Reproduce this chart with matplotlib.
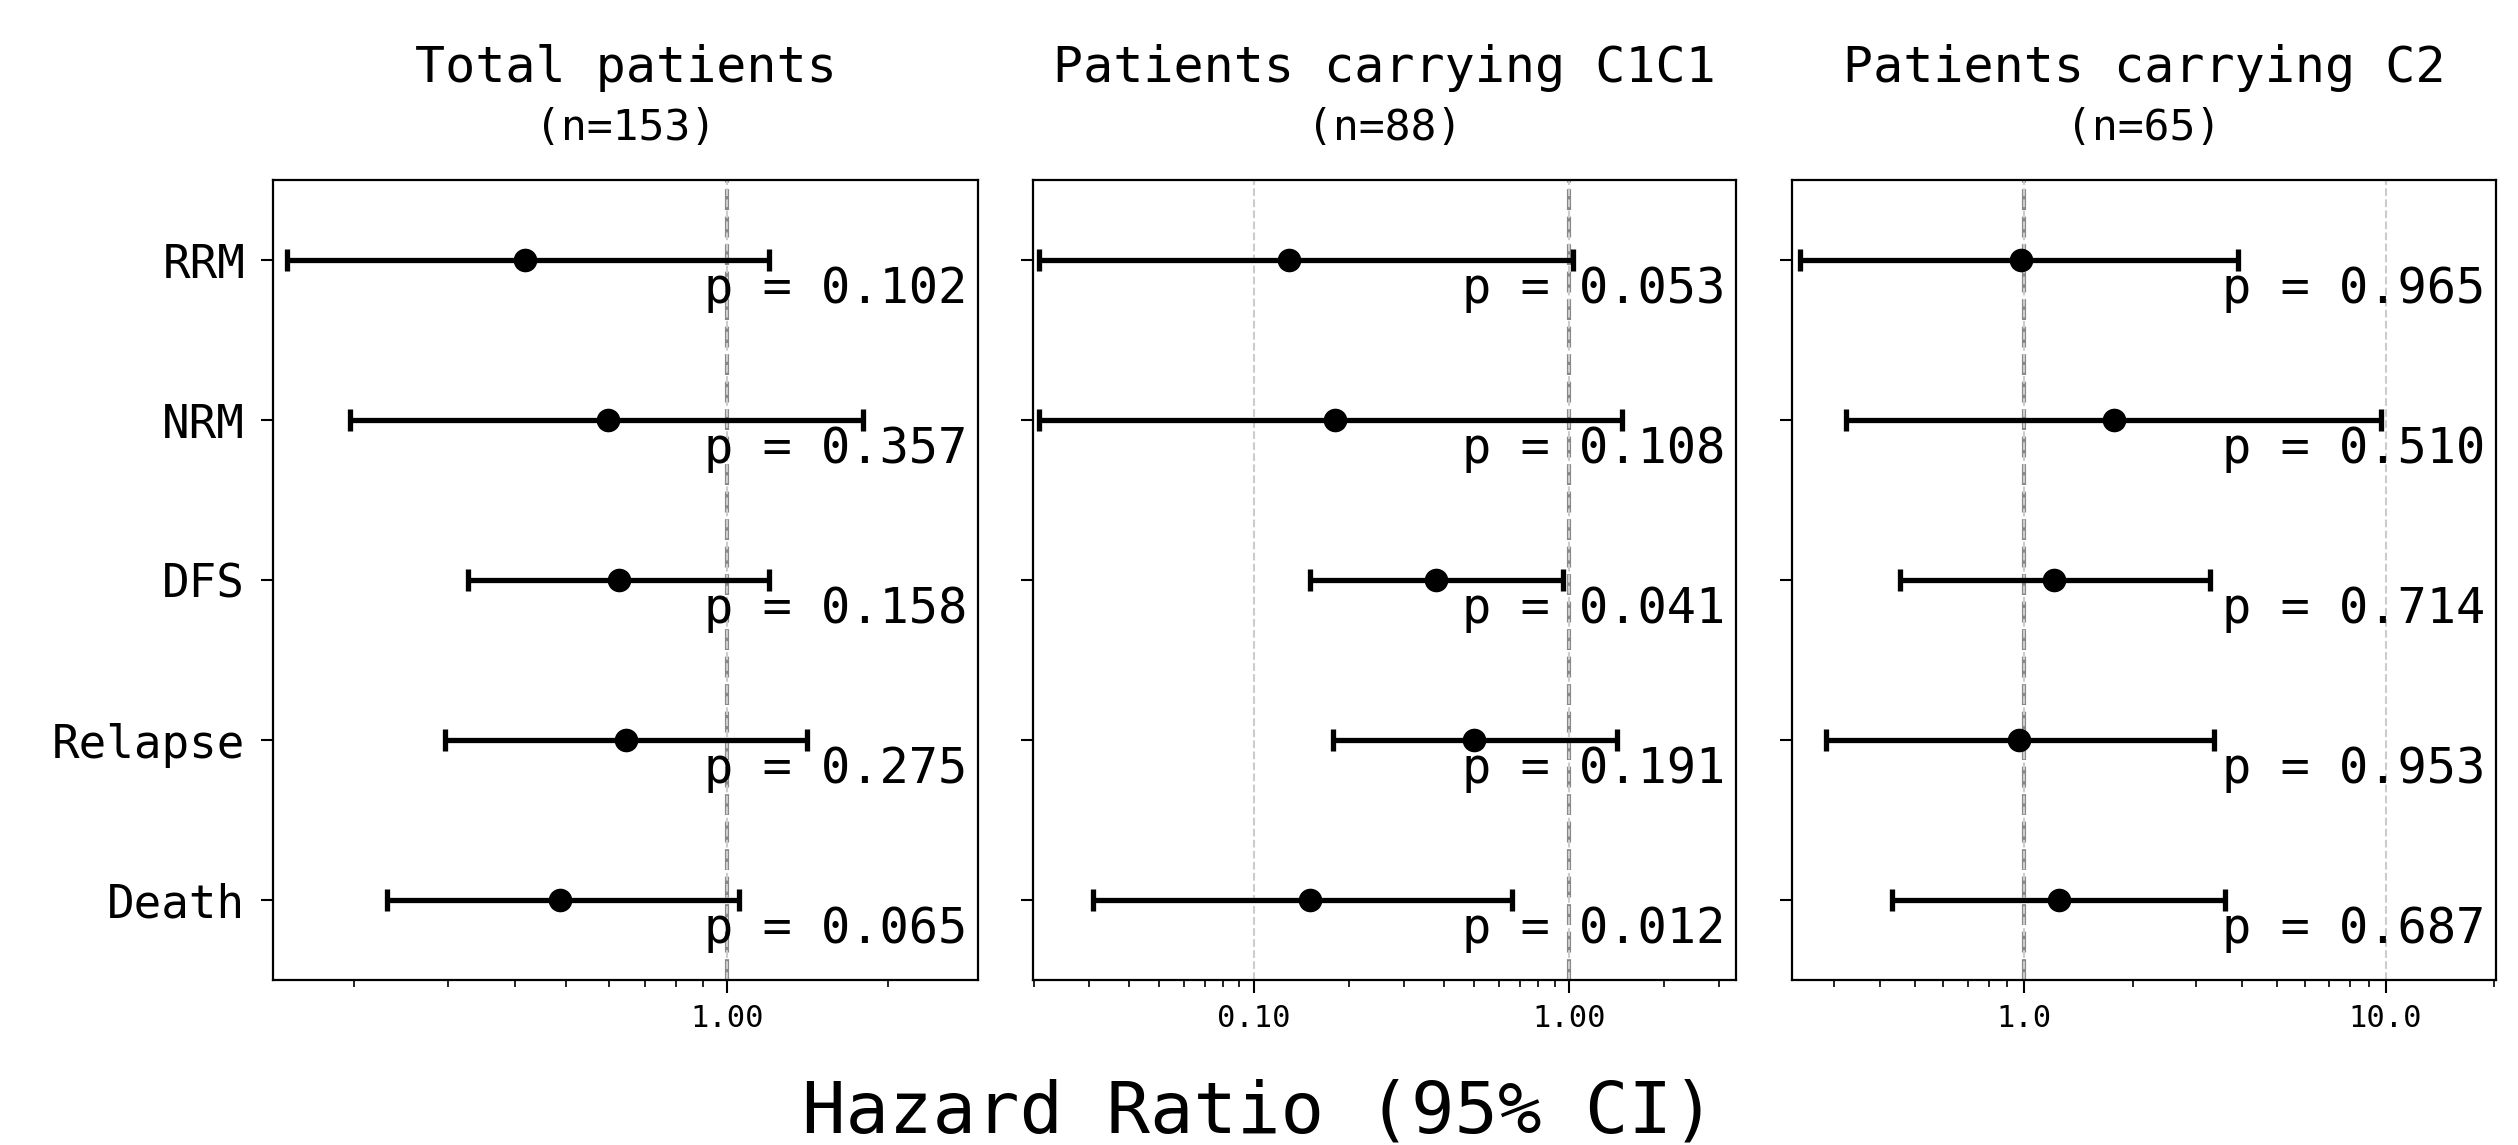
import matplotlib
matplotlib.use("Agg")
import matplotlib.pyplot as plt
from matplotlib.ticker import FixedLocator, FormatStrFormatter, NullFormatter, LogLocator
import numpy as np

plt.rcParams['font.family'] = ['DejaVu Sans Mono', 'DejaVu Sans']

# ---------------- data ----------------
outcomes = ["RRM", "NRM", "DFS", "Relapse", "Death"]
titles = ["Total patients", "Patients carrying C1C1", "Patients carrying C2"]
subtitles = ["(n=153)", "(n=88)", "(n=65)"]

hr_total = [0.418, 0.597, 0.626, 0.647, 0.487]
lo_total = [0.150, 0.197, 0.327, 0.297, 0.231]
hi_total = [1.198, 1.79, 1.198, 1.406, 1.049]
p_total = ["0.102", "0.357", "0.158", "0.275", "0.065"]

hr_c1c1 = [0.129, 0.181, 0.378, 0.499, 0.151]
lo_c1c1 = [0.0208, 0.0208, 0.151, 0.178, 0.0308]
hi_c1c1 = [1.03, 1.474, 0.957, 1.42, 0.659]
p_c1c1 = ["0.053", "0.108", "0.041", "0.191", "0.012"]

hr_c2 = [0.984, 1.78, 1.21, 0.970, 1.254]
lo_c2 = [0.241, 0.322, 0.454, 0.284, 0.433]
hi_c2 = [3.91, 9.72, 3.27, 3.36, 3.59]
p_c2 = ["0.965", "0.510", "0.714", "0.953", "0.687"]

xlims = [(0.1414, 2.94), (0.0199, 3.39), (0.229, 20.2)]
major_ticks = [[1.0], [0.1, 1.0], [1.0, 10.0]]
tick_fmts = ["%.2f", "%.2f", "%.1f"]

panels = [
    (hr_total, lo_total, hi_total, p_total),
    (hr_c1c1, lo_c1c1, hi_c1c1, p_c1c1),
    (hr_c2, lo_c2, hi_c2, p_c2),
]

# ---------------- figure ----------------
W, H = 2518, 1145
fig = plt.figure(figsize=(W / 100, H / 100), dpi=100)

lefts = [273, 1033, 1792]
rights = [978, 1736, 2496]
top_px, bot_px = 180, 980

y = np.arange(len(outcomes))

for i, (hr, lo, hi, pv) in enumerate(panels):
    ax = fig.add_axes([lefts[i] / W, 1 - bot_px / H,
                       (rights[i] - lefts[i]) / W, (bot_px - top_px) / H])
    hr_a = np.array(hr)
    xerr = [hr_a - np.array(lo), np.array(hi) - hr_a]
    ax.set_xscale('log')
    ax.set_xlim(*xlims[i])
    ax.set_ylim(len(outcomes) - 0.5, -0.5)

    ax.xaxis.set_major_locator(FixedLocator(major_ticks[i]))
    ax.xaxis.set_major_formatter(FormatStrFormatter(tick_fmts[i]))
    ax.xaxis.set_minor_locator(LogLocator(base=10, subs=np.arange(2, 10)))
    ax.xaxis.set_minor_formatter(NullFormatter())

    ax.grid(True, axis='x', which='major', color='#cccccc', linestyle='--', linewidth=1.5, zorder=0)
    ax.axvline(1.0, color='#888888', linestyle='--', linewidth=3, dashes=(5, 1.6), zorder=1)

    ax.errorbar(hr_a, y, xerr=xerr, fmt='o', color='black', ecolor='black',
                markersize=16, elinewidth=3.8, capsize=8, capthick=3.8, zorder=3)

    for j, p in enumerate(pv):
        ax.text(0.985, y[j] + 0.27, f"p = {p}", transform=ax.get_yaxis_transform(),
                ha='right', va='baseline', fontsize=35, zorder=4)

    ax.set_yticks(y)
    if i == 0:
        ax.set_yticklabels(outcomes, fontsize=33)
    else:
        ax.set_yticklabels([])

    ax.tick_params(axis='y', which='major', length=9, width=1.5, pad=11)
    ax.tick_params(axis='x', which='major', length=9, width=1.5, pad=8, labelsize=22)
    ax.tick_params(axis='x', which='minor', length=5, width=1.2)
    for s in ax.spines.values():
        s.set_linewidth(1.6)

    ax.text(0.5, 1 + (top_px - 82) / (bot_px - top_px), titles[i], transform=ax.transAxes,
            ha='center', va='baseline', fontsize=36)
    ax.text(0.5, 1 + (top_px - 140) / (bot_px - top_px), subtitles[i], transform=ax.transAxes,
            ha='center', va='baseline', fontsize=31)

fig.text(0.5, 1 - 1132 / H, "Hazard Ratio (95% CI)", ha='center', va='baseline', fontsize=52)

fig.savefig("out.png", dpi=100)
